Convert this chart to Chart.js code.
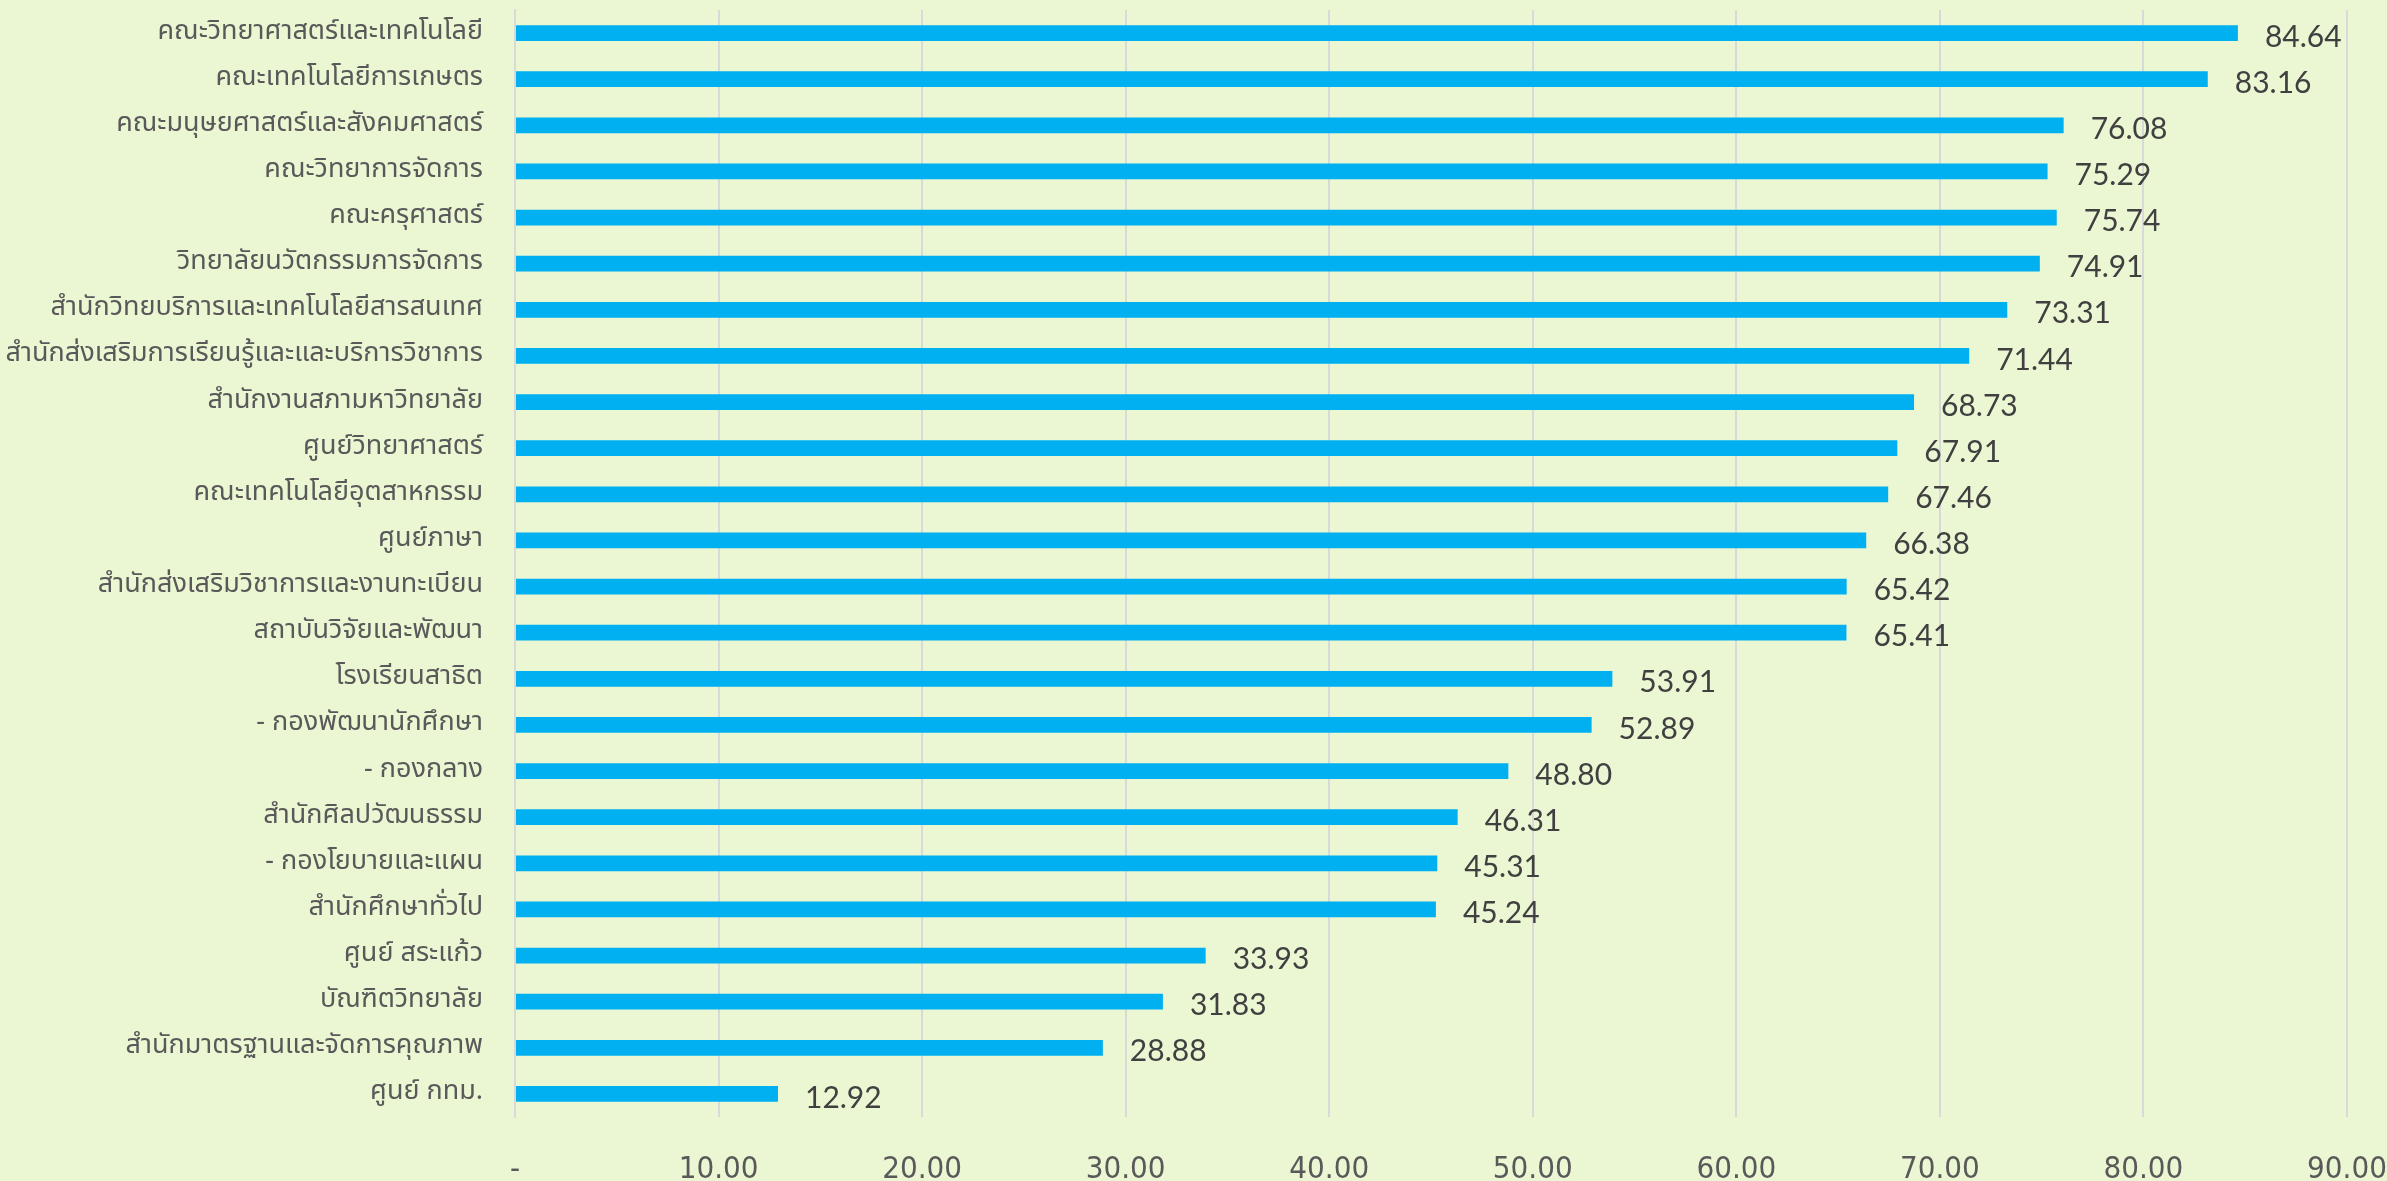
<!DOCTYPE html>
<html>
<head>
<meta charset="utf-8">
<script src="https://cdn.jsdelivr.net/npm/chart.js@4.4.1/dist/chart.umd.min.js"></script>
<style>
  html, body { margin: 0; padding: 0; background: #EBF6D3; }
  #wrap { width: 2387px; height: 1181px; position: relative; }
</style>
</head>
<body>
<div id="wrap"><canvas id="scoreChart"></canvas></div>
<script>
const units = [
    'คณะวิทยาศาสตร์และเทคโนโลยี',
    'คณะเทคโนโลยีการเกษตร',
    'คณะมนุษยศาสตร์และสังคมศาสตร์',
    'คณะวิทยาการจัดการ',
    'คณะครุศาสตร์',
    'วิทยาลัยนวัตกรรมการจัดการ',
    'สำนักวิทยบริการและเทคโนโลยีสารสนเทศ',
    'สำนักส่งเสริมการเรียนรู้และและบริการวิชาการ',
    'สำนักงานสภามหาวิทยาลัย',
    'ศูนย์วิทยาศาสตร์',
    'คณะเทคโนโลยีอุตสาหกรรม',
    'ศูนย์ภาษา',
    'สำนักส่งเสริมวิชาการและงานทะเบียน',
    'สถาบันวิจัยและพัฒนา',
    'โรงเรียนสาธิต',
    '- กองพัฒนานักศึกษา',
    '- กองกลาง',
    'สำนักศิลปวัฒนธรรม',
    '- กองโยบายและแผน',
    'สำนักศึกษาทั่วไป',
    'ศูนย์ สระแก้ว',
    'บัณฑิตวิทยาลัย',
    'สำนักมาตรฐานและจัดการคุณภาพ',
    'ศูนย์ กทม.'
];
const scores = [84.64, 83.16, 76.08, 75.29, 75.74, 74.91, 73.31, 71.44, 68.73, 67.91,
    67.46, 66.38, 65.42, 65.41, 53.91, 52.89, 48.80, 46.31, 45.31, 45.24,
    33.93, 31.83, 28.88, 12.92];
const xTicks = [0, 10, 20, 30, 40, 50, 60, 70, 80, 90];

const thaiFont = "Tahoma, 'Noto Sans Thai', 'Noto Sans', sans-serif";

// value labels to the right of each bar
const valueLabels = {
    id: 'valueLabels',
    afterDatasetsDraw(chart) {
        const ctx = chart.ctx;
        const meta = chart.getDatasetMeta(0);
        ctx.save();
        ctx.font = "30px Lato, 'Open Sans', sans-serif";
        ctx.fillStyle = '#404040';
        ctx.textAlign = 'left';
        ctx.textBaseline = 'middle';
        meta.data.forEach((bar, i) => {
            ctx.fillText(scores[i].toFixed(2), bar.x + 27, bar.y + 4);
        });
        ctx.restore();
    }
};

new Chart(document.getElementById('scoreChart').getContext('2d'), {
    type: 'bar',
    data: {
        labels: units,
        datasets: [{
            data: scores,
            backgroundColor: '#00B0F0',
            borderWidth: 0,
            barPercentage: 0.68,
            categoryPercentage: 0.5
        }]
    },
    options: {
        indexAxis: 'y',
        responsive: true,
        maintainAspectRatio: false,
        animation: false,
        layout: { padding: { top: 10, right: 40, left: 0, bottom: 0 } },
        plugins: {
            legend: { display: false },
            tooltip: { enabled: false }
        },
        scales: {
            x: {
                min: 0,
                max: 90,
                afterBuildTicks: (axis) => { axis.ticks = xTicks.map(v => ({ value: v })); },
                afterFit: (axis) => {
                    axis.height = 64;
                    axis.paddingLeft = 0;
                    axis.paddingRight = 0;
                },
                grid: { color: '#D9D9D9', lineWidth: 2, drawTicks: false },
                border: { display: false },
                ticks: {
                    padding: 34,
                    color: '#595959',
                    font: { family: "'Liberation Sans Narrow', 'DejaVu Sans Condensed', sans-serif", size: 31 },
                    callback: (v) => v === 0 ? '-' : v.toFixed(2)
                }
            },
            y: {
                afterFit: (axis) => {
                    axis.width = 515;
                    axis.paddingTop = 0;
                    axis.paddingBottom = 0;
                },
                grid: { display: false, drawTicks: false },
                border: { display: true, color: '#D9D9D9', width: 2 },
                ticks: {
                    padding: 32,
                    color: '#595959',
                    font: { family: thaiFont, size: 27 }
                }
            }
        }
    },
    plugins: [valueLabels]
});
</script>
</body>
</html>
